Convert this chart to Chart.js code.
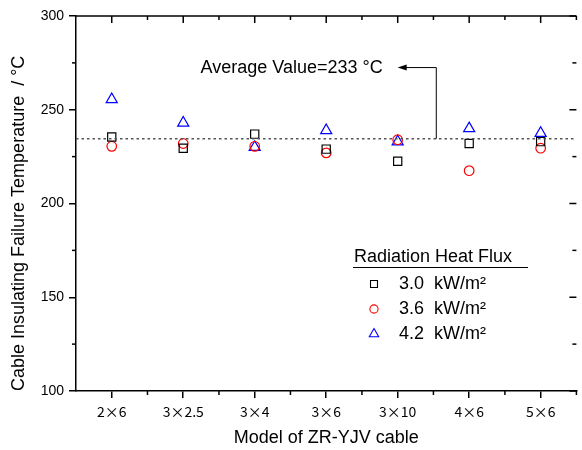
<!DOCTYPE html>
<html>
<head>
<meta charset="utf-8">
<script src="https://cdn.jsdelivr.net/npm/chart.js@4/dist/chart.umd.min.js"></script>
<style>
html, body { margin: 0; padding: 0; background: #fff; overflow: hidden; }
</style>
</head>
<body>
<canvas id="c" width="584" height="450"></canvas>
<script>
var categories = ['2×6', '3×2.5', '3×4', '3×6', '3×10', '4×6', '5×6'];
var flux30 = [235.5, 229.5, 237, 229, 222.5, 232, 233];
var flux36 = [230.5, 232, 230.5, 227, 234, 217.5, 229.5];
var flux42 = [255.5, 243, 230, 239, 233, 240, 237.5];
var seriesLabels = ['3.0  kW/m²', '3.6  kW/m²', '4.2  kW/m²'];
var legendTitle = 'Radiation Heat Flux';
var yMin = 100, yMax = 300, yStep = 50;
var averageValue = 234.5;
var averageText = 'Average Value=233 °C';
var arrowCat = 4.54, arrowTipCat = 4.0, arrowLevel = 272.5;

var font = "'Liberation Sans', Arial, sans-serif";
var catFont = "'Noto Sans CJK SC', 'Liberation Sans', sans-serif";

function tick(ctx, x1, y1, x2, y2) {
    ctx.beginPath();
    ctx.moveTo(x1, y1);
    ctx.lineTo(x2, y2);
    ctx.stroke();
}

var framePlugin = {
    id: 'frame',
    afterDraw: function (chart) {
        var ctx = chart.ctx;
        var a = chart.chartArea;
        var xs = chart.scales.x, ys = chart.scales.y;
        var cw = xs.getPixelForValue(1) - xs.getPixelForValue(0);
        ctx.save();
        ctx.strokeStyle = '#000';
        ctx.lineWidth = 1.5;
        // top border
        tick(ctx, a.left, a.top, a.right, a.top);
        // x ticks: top inward, bottom minor
        for (var i = 0; i < categories.length; i++) {
            var px = xs.getPixelForValue(i);
            tick(ctx, px, a.top, px, a.top + 7);
            var bx = px + cw / 2;
            tick(ctx, bx, a.top, bx, a.top + 4);
            tick(ctx, bx, a.bottom, bx, a.bottom + 4);
        }
        // y minor ticks + right inward ticks
        for (var v = yMin; v <= yMax; v += yStep / 2) {
            var py = ys.getPixelForValue(v);
            var major = (v - yMin) % yStep === 0;
            if (!major) tick(ctx, a.left - 4, py, a.left, py);
            tick(ctx, a.right - (major ? 7 : 4), py, a.right, py);
        }

        // average dotted line
        var ay = ys.getPixelForValue(averageValue);
        ctx.strokeStyle = '#555';
        ctx.lineWidth = 1.5;
        ctx.setLineDash([2.5, 3]);
        tick(ctx, a.left, ay, a.right, ay);
        ctx.setLineDash([]);

        // arrow annotation
        var ax = xs.getPixelForValue(arrowCat);
        var tx = xs.getPixelForValue(arrowTipCat);
        var ty = ys.getPixelForValue(arrowLevel);
        ctx.strokeStyle = '#000';
        ctx.lineWidth = 1;
        ctx.beginPath();
        ctx.moveTo(ax, ay);
        ctx.lineTo(ax, ty);
        ctx.lineTo(tx + 6, ty);
        ctx.stroke();
        ctx.fillStyle = '#000';
        ctx.beginPath();
        ctx.moveTo(tx, ty);
        ctx.lineTo(tx + 9, ty - 3);
        ctx.lineTo(tx + 9, ty + 3);
        ctx.closePath();
        ctx.fill();
        ctx.font = '18px ' + font;
        ctx.textAlign = 'right';
        ctx.textBaseline = 'middle';
        ctx.fillText(averageText, tx - 15, ty);

        // legend
        var lx = a.left + 278, ly = a.top + 241;
        ctx.textAlign = 'left';
        ctx.fillText(legendTitle, lx, ly);
        ctx.lineWidth = 1;
        tick(ctx, lx - 1, ly + 10.5, lx + 174, ly + 10.5);
        chart.data.datasets.forEach(function (ds, k) {
            var my = ly + 27 + k * 25;
            ctx.strokeStyle = ds.borderColor;
            ctx.fillStyle = 'rgba(0,0,0,0)';
            ctx.lineWidth = 1.1;
            Chart.helpers.drawPoint(ctx, {
                pointStyle: ds.pointStyle,
                radius: ds.pointRadius * 0.85,
                rotation: 0,
                borderWidth: 1.1
            }, lx + 20, my);
            ctx.fillStyle = '#000';
            ctx.fillText(ds.label, lx + 45, my);
        });
        ctx.restore();
    }
};

new Chart(document.getElementById('c').getContext('2d'), {
    type: 'line',
    data: {
        labels: categories,
        datasets: [{
            label: seriesLabels[0],
            data: flux30,
            showLine: false,
            pointStyle: 'rect',
            pointRadius: 5.8,
            borderColor: '#000000',
            backgroundColor: 'rgba(0,0,0,0)',
            pointBorderWidth: 1.2
        }, {
            label: seriesLabels[1],
            data: flux36,
            showLine: false,
            pointStyle: 'circle',
            pointRadius: 4.8,
            borderColor: '#ff0000',
            backgroundColor: 'rgba(0,0,0,0)',
            pointBorderWidth: 1.2
        }, {
            label: seriesLabels[2],
            data: flux42,
            showLine: false,
            pointStyle: 'triangle',
            pointRadius: 6.4,
            borderColor: '#0000ff',
            backgroundColor: 'rgba(0,0,0,0)',
            pointBorderWidth: 1.2
        }]
    },
    options: {
        responsive: false,
        animation: false,
        devicePixelRatio: 1,
        layout: { padding: { top: 16, right: 0, left: 0, bottom: 0 } },
        plugins: {
            legend: { display: false },
            tooltip: { enabled: false }
        },
        scales: {
            x: {
                offset: true,
                grid: { offset: false, drawOnChartArea: false, tickLength: 7, tickColor: '#000', lineWidth: 1.5 },
                border: { color: '#000', width: 1.5 },
                ticks: { color: '#000', padding: 5, maxRotation: 0, font: { family: catFont, size: 14 } },
                title: {
                    display: true,
                    text: 'Model of ZR-YJV cable',
                    color: '#000',
                    font: { family: font, size: 18 },
                    padding: { top: 0, bottom: 1 }
                },
                afterFit: function (scale) { scale.height = 59; }
            },
            y: {
                min: yMin,
                max: yMax,
                ticks: { stepSize: yStep, color: '#000', padding: 5, font: { family: font, size: 14 } },
                grid: { drawOnChartArea: false, tickLength: 7, tickColor: '#000', lineWidth: 1.5 },
                border: { color: '#000', width: 1.5 },
                title: {
                    display: true,
                    text: 'Cable Insulating Failure Temperature  / °C',
                    align: 'start',
                    color: '#000',
                    font: { family: font, size: 18 },
                    padding: { top: 8, bottom: 0 }
                },
                afterFit: function (scale) { scale.width = 76; }
            }
        }
    },
    plugins: [framePlugin]
});
</script>
</body>
</html>
